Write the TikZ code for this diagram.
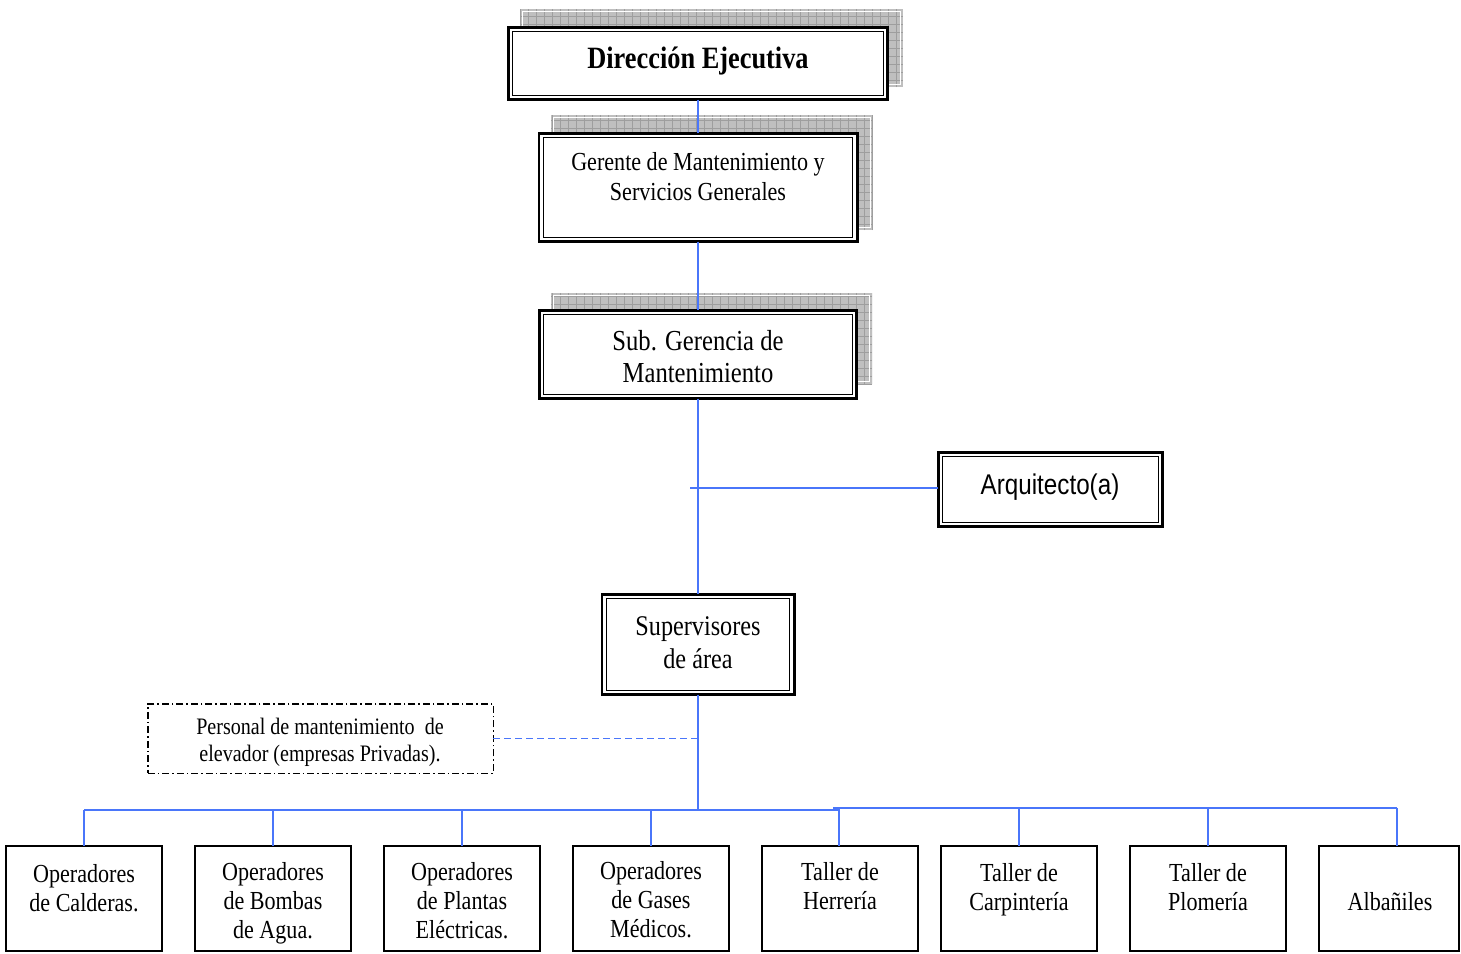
\documentclass[tikz,border=0pt]{standalone}
\usepackage{fontspec}
\setmainfont{Liberation Serif}[FakeStretch=0.85]
\newfontfamily\arqfont{Liberation Sans}[FakeStretch=0.85]
\definecolor{connblue}{RGB}{74,118,250}
\tikzset{
  mainbox/.style={draw, line width=2.6pt, fill=white, inner sep=0pt, outer sep=0pt},
  leafbox/.style={draw, line width=1.6pt, fill=white, minimum height=105.4pt, inner sep=0pt, outer sep=0pt},
  extbox/.style={draw, line width=1.5pt, dash pattern=on 7pt off 3pt on 1.5pt off 3pt, inner sep=0pt, outer sep=0pt},
  conn/.style={draw=connblue, line width=1.3pt},
  txt/.style={anchor=base, align=center, inner sep=0pt},
  shadowfill/.style={fill=black!25},
  shadowgrid/.style={draw=black!38, line width=0.7pt},
  shadowedge/.style={draw=white, line width=0.9pt},
}
\newcommand{\myshadow}[4]{%
  \fill[shadowfill] (#1,#2) rectangle (#3,#4);
  \begin{scope}
    \clip (#1,#2) rectangle (#3,#4);
    \draw[shadowgrid, step=8pt] (#1,#2) grid (#3,#4);
  \end{scope}
  \draw[shadowedge] ($(#1,#2)+(2.5,2.5)$) rectangle ($(#3,#4)+(-2.5,-2.5)$);
}
\usetikzlibrary{calc}
\begin{document}
\begin{tikzpicture}[x=1pt,y=-1pt]
\useasboundingbox (0,0) rectangle (1461,953);

% shadows
\myshadow{520}{9}{903}{87}
\myshadow{551}{115}{873}{230}
\myshadow{551}{293}{872}{384}

% main boxes
\node[mainbox, minimum width=379.4pt, minimum height=72.4pt] (dir) at (698,63.5) {};
\node[mainbox, minimum width=318.4pt, minimum height=108.4pt] (ger) at (698,187.5) {};
\node[mainbox, minimum width=317.4pt, minimum height=88.4pt] (sub) at (698,354.5) {};
\node[mainbox, minimum width=224.4pt, minimum height=74.4pt] (arq) at (1050.5,489.5) {};
\node[mainbox, minimum width=192.4pt, minimum height=100.4pt] (sup) at (698,644.5) {};
\node[extbox, minimum width=345.5pt, minimum height=69.5pt] (ext) at (320.5,738.5) {};

% bottom boxes
\node[leafbox, minimum width=156.4pt] (l1) at (84,898.5) {};
\node[leafbox, minimum width=156.4pt] (l2) at (273,898.5) {};
\node[leafbox, minimum width=156.4pt] (l3) at (462,898.5) {};
\node[leafbox, minimum width=156.4pt] (l4) at (651,898.5) {};
\node[leafbox, minimum width=156.4pt] (l5) at (840,898.5) {};
\node[leafbox, minimum width=156.4pt] (l6) at (1019,898.5) {};
\node[leafbox, minimum width=156.4pt] (l7) at (1208,898.5) {};
\node[leafbox, minimum width=140.4pt] (l8) at (1389,898.5) {};

% inner thin lines of the double borders
\foreach \n in {dir,ger,sub,arq,sup}
  \draw[line width=1.2pt] ([xshift=4.4pt,yshift=-4.4pt]\n.north west) rectangle ([xshift=-4.4pt,yshift=4.4pt]\n.south east);

% connectors
\coordinate (arqj) at (690,488);
\coordinate (busL) at (84,810);
\coordinate (busLE) at (839,810);
\coordinate (busR) at (833,808);
\coordinate (busRE) at (1397,808);
\draw[conn] (dir.south) -- (ger.north);
\draw[conn] (ger.south) -- (sub.north);
\draw[conn] (sub.south) -- (sup.north);
\draw[conn] (arqj) -- (arqj -| arq.west);
\draw[conn] (sup.south) -- (sup.south |- busL);
\draw[conn, line width=1.6pt, dash pattern=on 7pt off 4pt] (ext.east) -- (ext.east -| sup.south);
\draw[conn] (busL) -- (busLE);
\draw[conn] (busR) -- (busRE);
\draw[conn] (busL) -- (l1.north);
\draw[conn] (l2.north |- busL) -- (l2.north);
\draw[conn] (l3.north |- busL) -- (l3.north);
\draw[conn] (l4.north |- busL) -- (l4.north);
\draw[conn] (busLE |- busR) -- (busLE |- l5.north);
\draw[conn] (l6.north |- busR) -- (l6.north);
\draw[conn] (l7.north |- busR) -- (l7.north);
\draw[conn] (busRE) -- (busRE |- l8.north);

% texts (anchor base = baseline of the last line)
\node[txt, font=\fontsize{31}{34}\selectfont\bfseries] (tdir) at (698,68) {Dirección Ejecutiva};
\node[txt, font=\fontsize{26}{29.3}\selectfont] (tger) at (698,200) {Gerente de Mantenimiento y\\Servicios Generales};
\node[txt, font=\fontsize{29}{31.5}\selectfont] (tsub) at (698,382) {Sub. Gerencia de\\Mantenimiento};
\node[txt, font=\arqfont\fontsize{28.5}{31}\selectfont] (tarq) at (1050,494) {Arquitecto(a)};
\node[txt, font=\fontsize{28.5}{33}\selectfont] (tsup) at (698,668) {Supervisores\\de área};
\node[txt, font=\fontsize{23.6}{27}\selectfont] (text) at (320,761) {Personal de mantenimiento\ \ de\\elevador (empresas Privadas).};
\begin{scope}[every node/.style={txt, font=\fontsize{26}{29}\selectfont}]
\node (t1) at (84,911) {Operadores\\de Calderas.};
\node (t2) at (273,938) {Operadores\\de Bombas\\de Agua.};
\node (t3) at (462,938) {Operadores\\de Plantas\\Eléctricas.};
\node (t4) at (651,937) {Operadores\\de Gases\\Médicos.};
\node (t5) at (840,909) {Taller de\\Herrería};
\node (t6) at (1019,910) {Taller de\\Carpintería};
\node (t7) at (1208,910) {Taller de\\Plomería};
\node (t8) at (1390,910) {Albañiles};
\end{scope}
\end{tikzpicture}
\end{document}
